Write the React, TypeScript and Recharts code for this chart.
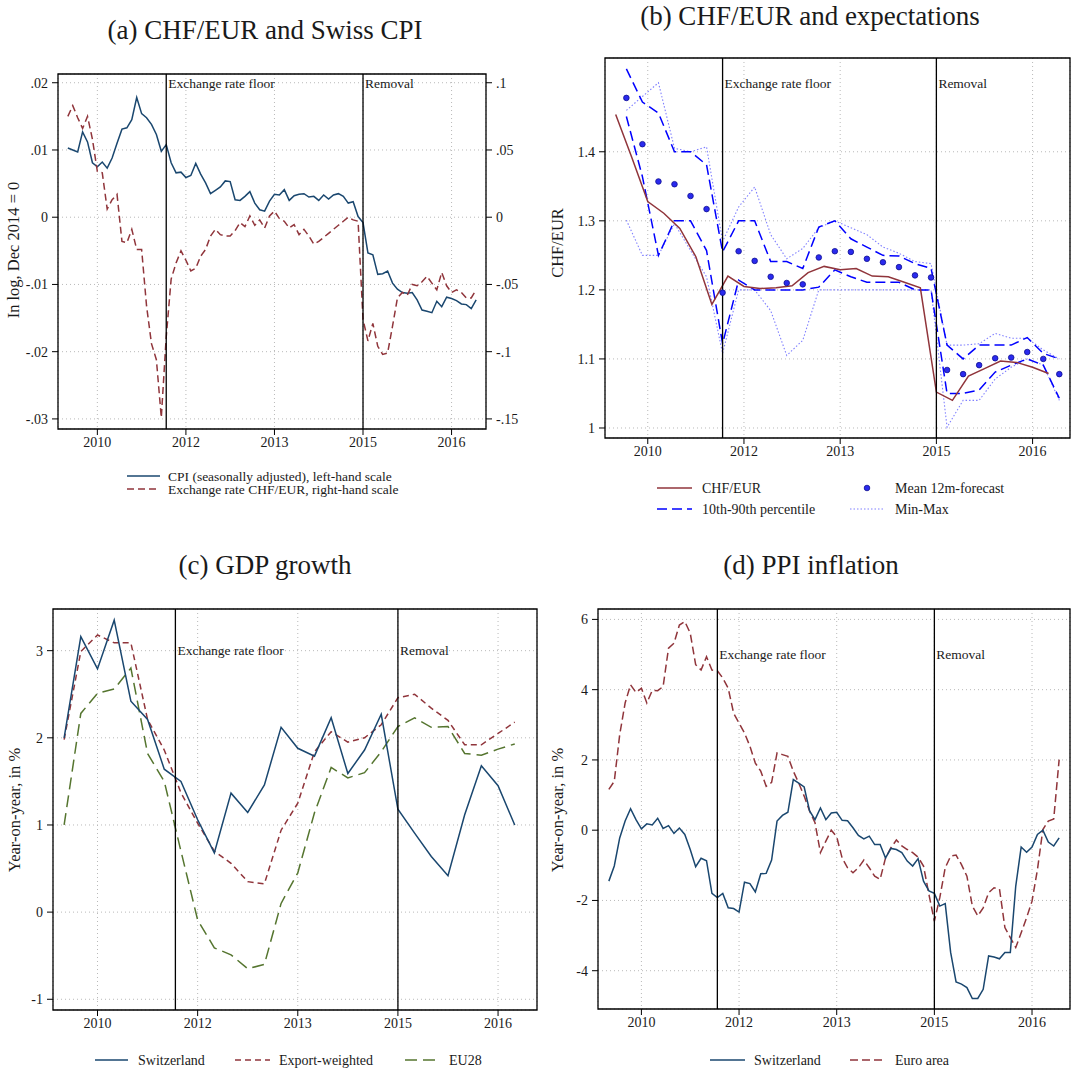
import React from 'react';
import {
  ComposedChart,
  Line,
  XAxis,
  YAxis,
  CartesianGrid,
  ReferenceLine,
  ReferenceArea,
  ReferenceDot,
} from 'recharts';

// x is months counted from Jan 2009 (t = 0); axis ticks every 18 months
const yearTicks = [18, 36, 54, 72, 90];
const yearLabels = ['2010', '2012', '2013', '2015', '2016'];
const floorMonth = 32; // Sep 2011
const removalMonth = 72; // Jan 2015

// (a) monthly, starting Jan 2010
const cpiStart = 12;
const cpiLog = [
  0.0103, 0.01, 0.0097, 0.0127, 0.0112, 0.0081, 0.0075, 0.0082, 0.0073, 0.0088,
  0.011, 0.0131, 0.0133, 0.0145, 0.0178, 0.0154, 0.0148, 0.0138, 0.0123, 0.0098,
  0.0108, 0.0081, 0.0066, 0.0067, 0.0059, 0.0062, 0.008, 0.0064, 0.0051, 0.0035,
  0.004, 0.0045, 0.0054, 0.0053, 0.0026, 0.0025, 0.0031, 0.0038, 0.0021, 0.0011,
  0.0009, 0.0024, 0.0034, 0.0033, 0.0041, 0.0025, 0.0032, 0.0034, 0.0035, 0.003,
  0.0031, 0.0025, 0.0033, 0.0027, 0.0033, 0.0035, 0.0031, 0.0021, 0.0023, 0.0001,
  -0.0008, -0.0053, -0.0056, -0.0085, -0.0084, -0.008, -0.0098, -0.0107, -0.0112, -0.0113,
  -0.0112, -0.0123, -0.0138, -0.014, -0.0142, -0.0125, -0.0133, -0.0119, -0.0121, -0.0124,
  -0.0129, -0.013, -0.0136, -0.0123,
];
const fxLog = [
  0.075, 0.083, 0.074, 0.066, 0.075, 0.058, 0.034, 0.033, 0.006, 0.013,
  0.017, -0.018, -0.019, -0.009, -0.024, -0.024, -0.066, -0.094, -0.106, -0.149,
  -0.089, -0.046, -0.034, -0.025, -0.032, -0.04, -0.038, -0.029, -0.024, -0.014,
  -0.009, -0.013, -0.014, -0.014, -0.01, -0.004, -0.007, 0.001, -0.006, -0.002,
  -0.008, 0.001, 0.0045, -0.001, -0.003, -0.008, -0.0055, -0.013, -0.009, -0.014,
  -0.02, -0.018, -0.015, -0.012, -0.009, -0.006, -0.003, 0.0, -0.002, -0.003,
  -0.076, -0.092, -0.079, -0.096, -0.102, -0.101, -0.081, -0.06, -0.056, -0.058,
  -0.05, -0.051, -0.048, -0.044, -0.049, -0.054, -0.041, -0.051, -0.056, -0.054,
  -0.056, -0.06, -0.06, -0.054,
];

// (b) quarterly spot rate and survey forecasts
const spotStart = 12;
const spotRate = [
  1.454, 1.392, 1.328, 1.311, 1.289, 1.248, 1.179, 1.22, 1.205, 1.202,
  1.203, 1.206, 1.225, 1.234, 1.229, 1.231, 1.22, 1.219, 1.211, 1.203,
  1.052, 1.04, 1.075, 1.086, 1.097, 1.095, 1.088, 1.079,
];
const surveyStart = 14;
const forecastMean = [
  1.478, 1.411, 1.357, 1.353, 1.336, 1.317, 1.196, 1.256, 1.242, 1.219,
  1.21, 1.208, 1.247, 1.256, 1.255, 1.245, 1.24, 1.233, 1.221, 1.218,
  1.084, 1.078, 1.091, 1.101, 1.102, 1.11, 1.1, 1.078,
];
const forecastP90 = [
  1.52, 1.472, 1.456, 1.4, 1.4, 1.381, 1.255, 1.3, 1.3, 1.241,
  1.241, 1.231, 1.291, 1.3, 1.274, 1.262, 1.25, 1.249, 1.238, 1.231,
  1.12, 1.1, 1.12, 1.12, 1.12, 1.131, 1.108, 1.1,
];
const forecastP10 = [
  1.451, 1.364, 1.25, 1.3, 1.3, 1.257, 1.122, 1.214, 1.2, 1.2,
  1.2, 1.2, 1.204, 1.229, 1.219, 1.211, 1.211, 1.211, 1.2, 1.2,
  1.05, 1.05, 1.055, 1.081, 1.091, 1.1, 1.091, 1.043,
];
const forecastMax = [
  1.46, 1.48, 1.5, 1.405, 1.4, 1.407, 1.27, 1.32, 1.349, 1.28,
  1.245, 1.26, 1.29, 1.3, 1.29, 1.28, 1.262, 1.253, 1.241, 1.238,
  1.12, 1.12, 1.122, 1.137, 1.13, 1.13, 1.113, 1.1,
];
const forecastMin = [
  1.301, 1.25, 1.25, 1.296, 1.257, 1.219, 1.108, 1.2, 1.2, 1.17,
  1.105, 1.127, 1.2, 1.2, 1.2, 1.2, 1.2, 1.2, 1.2, 1.2,
  1.001, 1.04, 1.04, 1.071, 1.088, 1.1, 1.091, 1.04,
];

// (c) quarterly GDP growth
const gdpStart = 12;
const gdpSwiss = [
  2.0, 3.16, 2.79, 3.35, 2.42, 2.21, 1.64, 1.5, 1.06, 0.68,
  1.365, 1.143, 1.46, 2.12, 1.88, 1.79, 2.23, 1.59, 1.86, 2.27,
  1.18, 0.906, 0.639, 0.417, 1.117, 1.68, 1.45, 1.0,
];
const gdpExport = [
  1.98, 2.99, 3.18, 3.09, 3.09, 2.21, 1.86, 1.37, 1.02, 0.7,
  0.56, 0.35, 0.325, 0.94, 1.25, 1.84, 2.07, 1.95, 2.0, 2.15,
  2.46, 2.5, 2.34, 2.2, 1.92, 1.92, 2.05, 2.18,
];
const gdpEu28 = [
  1.0, 2.28, 2.51, 2.56, 2.8, 1.82, 1.5, 0.7, -0.09, -0.41,
  -0.49, -0.65, -0.6, 0.1, 0.45, 1.14, 1.66, 1.54, 1.6, 1.84,
  2.13, 2.23, 2.12, 2.13, 1.82, 1.8, 1.87, 1.93,
];

// (d) monthly PPI inflation
const ppiStart = 12;
const ppiSwiss = [
  -1.45, -1.02, -0.22, 0.26, 0.61, 0.3, 0.04, 0.18, 0.15, 0.34,
  0.05, 0.13, -0.09, 0.06, -0.12, -0.55, -1.04, -0.8, -0.87, -1.8,
  -1.92, -1.8, -2.21, -2.23, -2.33, -1.48, -1.52, -1.76, -1.24, -1.23,
  -0.85, 0.26, 0.42, 0.51, 1.44, 1.34, 1.23, 0.55, 0.3, 0.63,
  0.3, 0.49, 0.51, 0.28, 0.27, 0.07, -0.15, -0.25, -0.17, -0.41,
  -0.41, -0.79, -0.52, -0.55, -0.64, -0.88, -1.02, -0.81, -1.45, -1.73,
  -1.8, -2.16, -2.09, -3.48, -4.32, -4.38, -4.48, -4.79, -4.79, -4.53,
  -3.58, -3.61, -3.66, -3.48, -3.48, -1.59, -0.48, -0.63, -0.48, -0.12,
  0.0, -0.34, -0.45, -0.22,
];
const ppiEuro = [
  1.16, 1.39, 2.72, 3.62, 4.14, 3.92, 4.04, 3.62, 3.98, 3.97,
  4.09, 5.18, 5.32, 5.84, 5.94, 5.61, 4.71, 4.56, 4.94, 4.56,
  4.54, 4.33, 4.04, 3.33, 3.05, 2.77, 2.39, 1.91, 1.68, 1.25,
  1.36, 2.2, 2.15, 2.1, 1.68, 1.34, 0.97, 0.55, 0.21, -0.64,
  -0.31, 0.0, -0.19, -0.79, -1.07, -1.21, -1.07, -0.85, -1.07, -1.31,
  -1.4, -0.79, -0.5, -0.28, -0.45, -0.55, -0.64, -0.77, -1.02, -1.83,
  -2.59, -1.92, -1.07, -0.74, -0.71, -0.98, -1.31, -2.16, -2.44, -2.21,
  -1.78, -1.64, -1.67, -2.77, -3.06, -3.34, -2.92, -2.49, -2.02, -1.12,
  0.02, 0.26, 0.32, 2.01,
];

const NAVY = '#1a476f';
const MAROON = '#90353b';
const OLIVE = '#55752f';
const BLUE = '#0000ff';
const LILAC = '#8080ff';
const INK = '#1a1a1a';
const FONT = '"Liberation Serif", "Times New Roman", serif';

const rows = (start: number, step: number, values: number[]) =>
  values.map((v, i) => ({ t: start + i * step, v }));

const stataDecimal = (v: number) => (v === 0 ? '0' : String(v).replace('0.', '.'));
const oneDecimal = (v: number) => (v === 1 ? '1' : v.toFixed(1));
const plain = (v: number) => String(v);

const tickStyle = { fill: INK, fontSize: 14 };

type Margin = { top: number; right: number; bottom: number; left: number };

type PanelProps = {
  left: number;
  top: number;
  width: number;
  height: number;
  margin: Margin;
  yDomain: [number, number];
  yTicks: number[];
  yFormat: (v: number) => string;
  yWidth: number;
  flagY: number;
  extra?: React.ReactNode;
  children: React.ReactNode;
};

function Panel(p: PanelProps) {
  return (
    <div style={{ position: 'absolute', left: p.left, top: p.top }}>
      <ComposedChart width={p.width} height={p.height} margin={p.margin}>
        <CartesianGrid yAxisId="l" stroke="#b9b9b9" strokeDasharray="1 3" strokeWidth={1} />
        <XAxis
          dataKey="t"
          type="number"
          domain={[10, 97]}
          ticks={yearTicks}
          interval={0}
          tickFormatter={(v: number) => yearLabels[yearTicks.indexOf(v)]}
          allowDataOverflow
          axisLine={false}
          tickLine={{ stroke: '#000' }}
          tickSize={6}
          tickMargin={2}
          height={26}
          tick={tickStyle}
        />
        <YAxis
          yAxisId="l"
          type="number"
          domain={p.yDomain}
          ticks={p.yTicks}
          interval={0}
          tickFormatter={p.yFormat}
          allowDataOverflow
          axisLine={false}
          tickLine={{ stroke: '#000' }}
          tickSize={6}
          tickMargin={4}
          width={p.yWidth}
          tick={tickStyle}
        />
        {p.extra}
        {p.children}
        <ReferenceLine yAxisId="l" x={floorMonth} stroke="#000" strokeWidth={1.3} />
        <ReferenceLine yAxisId="l" x={removalMonth} stroke="#000" strokeWidth={1.3} />
        <ReferenceDot
          yAxisId="l"
          x={floorMonth}
          y={p.flagY}
          r={0}
          label={{ value: 'Exchange rate floor', position: 'right', offset: 2, fill: INK, fontSize: 13.5 }}
        />
        <ReferenceDot
          yAxisId="l"
          x={removalMonth}
          y={p.flagY}
          r={0}
          label={{ value: 'Removal', position: 'right', offset: 2, fill: INK, fontSize: 13.5 }}
        />
        <ReferenceArea
          yAxisId="l"
          x1={10}
          x2={97}
          y1={p.yDomain[0]}
          y2={p.yDomain[1]}
          fill="none"
          stroke="#000"
          strokeWidth={1.3}
          ifOverflow="visible"
        />
      </ComposedChart>
    </div>
  );
}

const lineBase = {
  yAxisId: 'l',
  dataKey: 'v',
  type: 'linear' as const,
  dot: false,
  activeDot: false,
  isAnimationActive: false,
};

function Overlay() {
  const title = { fontSize: 27, textAnchor: 'middle' as const, fill: INK };
  const yTitle = { fontSize: 16.5, textAnchor: 'middle' as const, fill: INK };
  const leg = { fontSize: 14, fill: INK };
  return (
    <svg
      width={1071}
      height={1070}
      style={{ position: 'absolute', left: 0, top: 0, pointerEvents: 'none' }}
    >
      <text x={265} y={39} {...title}>(a) CHF/EUR and Swiss CPI</text>
      <text x={810} y={25} {...title}>(b) CHF/EUR and expectations</text>
      <text x={265} y={574} {...title}>(c) GDP growth</text>
      <text x={811} y={574} {...title}>(d) PPI inflation</text>

      <text transform="translate(19,250) rotate(-90)" {...yTitle}>In log, Dec 2014 = 0</text>
      <text transform="translate(563,243) rotate(-90)" {...yTitle}>CHF/EUR</text>
      <text transform="translate(20,810) rotate(-90)" {...yTitle}>Year-on-year, in %</text>
      <text transform="translate(563,810) rotate(-90)" {...yTitle}>Year-on-year, in %</text>

      {/* (a) legend */}
      <line x1={127} x2={160} y1={476} y2={476} stroke={NAVY} strokeWidth={1.5} />
      <text x={168} y={480.5} fontSize={13.5} fill={INK}>CPI (seasonally adjusted), left-hand scale</text>
      <line x1={127} x2={160} y1={489} y2={489} stroke={MAROON} strokeWidth={1.5} strokeDasharray="7 4" />
      <text x={168} y={493.5} fontSize={13.5} fill={INK}>Exchange rate CHF/EUR, right-hand scale</text>

      {/* (b) legend */}
      <line x1={657} x2={692} y1={488} y2={488} stroke={MAROON} strokeWidth={1.5} />
      <text x={702} y={492.5} {...leg}>CHF/EUR</text>
      <line x1={657} x2={692} y1={509} y2={509} stroke={BLUE} strokeWidth={1.5} strokeDasharray="10 5" />
      <text x={702} y={513.5} {...leg}>10th-90th percentile</text>
      <circle cx={867} cy={488} r={2.8} fill="#2a2aee" stroke="#101090" strokeWidth={0.8} />
      <text x={895} y={492.5} {...leg}>Mean 12m-forecast</text>
      <line x1={850} x2={883} y1={509} y2={509} stroke={LILAC} strokeWidth={1.1} strokeDasharray="1.5 2" />
      <text x={895} y={513.5} {...leg}>Min-Max</text>

      {/* (c) legend */}
      <line x1={95} x2={128} y1={1060} y2={1060} stroke={NAVY} strokeWidth={1.5} />
      <text x={138} y={1064.5} {...leg}>Switzerland</text>
      <line x1={235} x2={270} y1={1060} y2={1060} stroke={MAROON} strokeWidth={1.5} strokeDasharray="6 4" />
      <text x={279} y={1064.5} {...leg}>Export-weighted</text>
      <line x1={405} x2={440} y1={1060} y2={1060} stroke={OLIVE} strokeWidth={1.5} strokeDasharray="12 6" />
      <text x={449} y={1064.5} {...leg}>EU28</text>

      {/* (d) legend */}
      <line x1={710} x2={745} y1={1060} y2={1060} stroke={NAVY} strokeWidth={1.5} />
      <text x={754} y={1064.5} {...leg}>Switzerland</text>
      <line x1={850} x2={885} y1={1060} y2={1060} stroke={MAROON} strokeWidth={1.5} strokeDasharray="8 4" />
      <text x={895} y={1064.5} {...leg}>Euro area</text>
    </svg>
  );
}

export default function App() {
  const leftDomain: [number, number] = [-0.0315, 0.0213];
  const rightDomain: [number, number] = [-0.1575, 0.1065];
  return (
    <div
      style={{
        position: 'absolute',
        left: 0,
        top: 0,
        width: 1071,
        height: 1070,
        background: '#fff',
        fontFamily: FONT,
        overflow: 'hidden',
      }}
    >
      {/* (a) CPI and exchange rate on two scales */}
      <Panel
        left={0}
        top={60}
        width={540}
        height={400}
        margin={{ top: 14, right: 10, bottom: 5, left: 10 }}
        yDomain={leftDomain}
        yTicks={[-0.03, -0.02, -0.01, 0, 0.01, 0.02]}
        yFormat={stataDecimal}
        yWidth={48}
        flagY={0.02}
        extra={
          <YAxis
            yAxisId="r"
            orientation="right"
            type="number"
            domain={rightDomain}
            ticks={[-0.15, -0.1, -0.05, 0, 0.05, 0.1]}
            interval={0}
            tickFormatter={stataDecimal}
            allowDataOverflow
            axisLine={false}
            tickLine={{ stroke: '#000' }}
            tickSize={6}
            tickMargin={4}
            width={44}
            tick={tickStyle}
          />
        }
      >
        <Line {...lineBase} data={rows(cpiStart, 1, cpiLog)} stroke={NAVY} strokeWidth={1.5} />
        <Line
          {...lineBase}
          yAxisId="r"
          data={rows(cpiStart, 1, fxLog)}
          stroke={MAROON}
          strokeWidth={1.5}
          strokeDasharray="7 4"
        />
      </Panel>

      {/* (b) spot rate and survey expectations */}
      <Panel
        left={545}
        top={50}
        width={526}
        height={420}
        margin={{ top: 8, right: 1, bottom: 6, left: 10 }}
        yDomain={[0.9855, 1.5358]}
        yTicks={[1, 1.1, 1.2, 1.3, 1.4]}
        yFormat={oneDecimal}
        yWidth={50}
        flagY={1.5}
      >
        <Line {...lineBase} data={rows(surveyStart, 3, forecastMax)} stroke={LILAC} strokeWidth={1.1} strokeDasharray="1.5 2" />
        <Line {...lineBase} data={rows(surveyStart, 3, forecastMin)} stroke={LILAC} strokeWidth={1.1} strokeDasharray="1.5 2" />
        <Line {...lineBase} data={rows(surveyStart, 3, forecastP90)} stroke={BLUE} strokeWidth={1.5} strokeDasharray="10 5" />
        <Line {...lineBase} data={rows(surveyStart, 3, forecastP10)} stroke={BLUE} strokeWidth={1.5} strokeDasharray="10 5" />
        <Line {...lineBase} data={rows(spotStart, 3, spotRate)} stroke={MAROON} strokeWidth={1.5} />
        <Line
          {...lineBase}
          data={rows(surveyStart, 3, forecastMean)}
          stroke="none"
          dot={{ r: 2.8, fill: '#2a2aee', stroke: '#101090', strokeWidth: 0.8 }}
        />
      </Panel>

      {/* (c) GDP growth */}
      <Panel
        left={0}
        top={600}
        width={545}
        height={440}
        margin={{ top: 9, right: 8, bottom: 4, left: 8 }}
        yDomain={[-1.123, 3.478]}
        yTicks={[-1, 0, 1, 2, 3]}
        yFormat={plain}
        yWidth={45}
        flagY={3}
      >
        <Line {...lineBase} data={rows(gdpStart, 3, gdpEu28)} stroke={OLIVE} strokeWidth={1.5} strokeDasharray="12 6" />
        <Line {...lineBase} data={rows(gdpStart, 3, gdpExport)} stroke={MAROON} strokeWidth={1.5} strokeDasharray="6 4" />
        <Line {...lineBase} data={rows(gdpStart, 3, gdpSwiss)} stroke={NAVY} strokeWidth={1.5} />
      </Panel>

      {/* (d) PPI inflation */}
      <Panel
        left={545}
        top={600}
        width={526}
        height={440}
        margin={{ top: 9, right: 1, bottom: 5, left: 11 }}
        yDomain={[-5.09, 6.296]}
        yTicks={[-4, -2, 0, 2, 4, 6]}
        yFormat={plain}
        yWidth={42}
        flagY={5}
      >
        <Line {...lineBase} data={rows(ppiStart, 1, ppiEuro)} stroke={MAROON} strokeWidth={1.5} strokeDasharray="8 4" />
        <Line {...lineBase} data={rows(ppiStart, 1, ppiSwiss)} stroke={NAVY} strokeWidth={1.5} />
      </Panel>

      <Overlay />
    </div>
  );
}
